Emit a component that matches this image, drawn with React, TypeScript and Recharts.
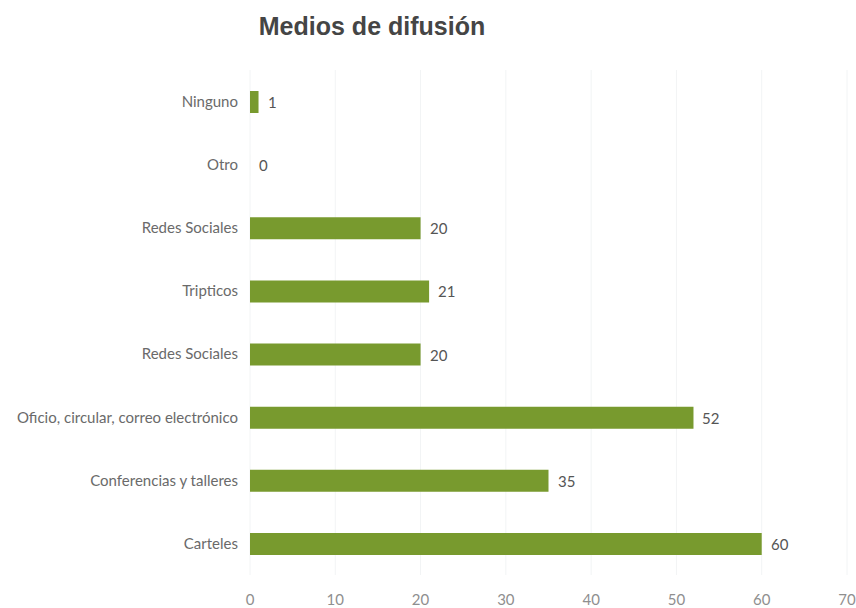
import { BarChart, Bar, XAxis, YAxis, CartesianGrid, LabelList } from 'recharts';

const CATEGORIES = [
  'Ninguno',
  'Otro',
  'Redes Sociales',
  'Tripticos',
  'Redes Sociales',
  'Oficio, circular, correo electrónico',
  'Conferencias y talleres',
  'Carteles',
];
const VALUES = [1, 0, 20, 21, 20, 52, 35, 60];
const X_TICKS = [0, 10, 20, 30, 40, 50, 60, 70];

const BAR_COLOR = '#789a2e';
const FONT = 'Lato, "Open Sans", sans-serif';

const data = CATEGORIES.map((name, i) => ({ name, value: VALUES[i] }));

// custom label so a zero-width bar still gets its "0"
function ValueLabel(props: any) {
  const { x, y, width, height, value } = props;
  if (value == null) return null;
  return (
    <text
      x={Number(x) + Math.round(Number(width || 0)) + 9}
      y={Number(y) + Number(height) / 2}
      dominantBaseline="central"
      fill="#555"
      fontSize={15}
      fontFamily={FONT}
    >
      {value}
    </text>
  );
}

export default function App() {
  return (
    <div style={{ position: 'absolute', left: 0, top: 0, width: 856, height: 608, background: '#fff' }}>
      <div
        style={{
          position: 'absolute',
          left: 0,
          width: 744,
          top: 12,
          textAlign: 'center',
          fontFamily: '"Liberation Sans", Arial, sans-serif',
          fontWeight: 'bold',
          fontSize: 25,
          color: '#454545',
        }}
      >
        Medios de difusión
      </div>
      <BarChart
        width={856}
        height={608}
        layout="vertical"
        data={data}
        margin={{ top: 70, right: 9, bottom: 3, left: 0 }}
        barSize={22}
      >
        <CartesianGrid horizontal={false} stroke="#f2f4f5" />
        <XAxis
          type="number"
          domain={[0, 70]}
          ticks={X_TICKS}
          height={30}
          axisLine={false}
          tickLine={false}
          tickMargin={13}
          tick={{ fill: '#8f8f8f', fontSize: 15, fontFamily: FONT }}
        />
        <YAxis
          type="category"
          dataKey="name"
          width={250}
          axisLine={false}
          tickLine={false}
          tickMargin={6}
          interval={0}
          tick={{ fill: '#6a6a6a', fontSize: 15, fontFamily: FONT }}
        />
        <Bar dataKey="value" fill={BAR_COLOR} minPointSize={0.01} isAnimationActive={false}>
          <LabelList dataKey="value" content={<ValueLabel />} />
        </Bar>
      </BarChart>
    </div>
  );
}
